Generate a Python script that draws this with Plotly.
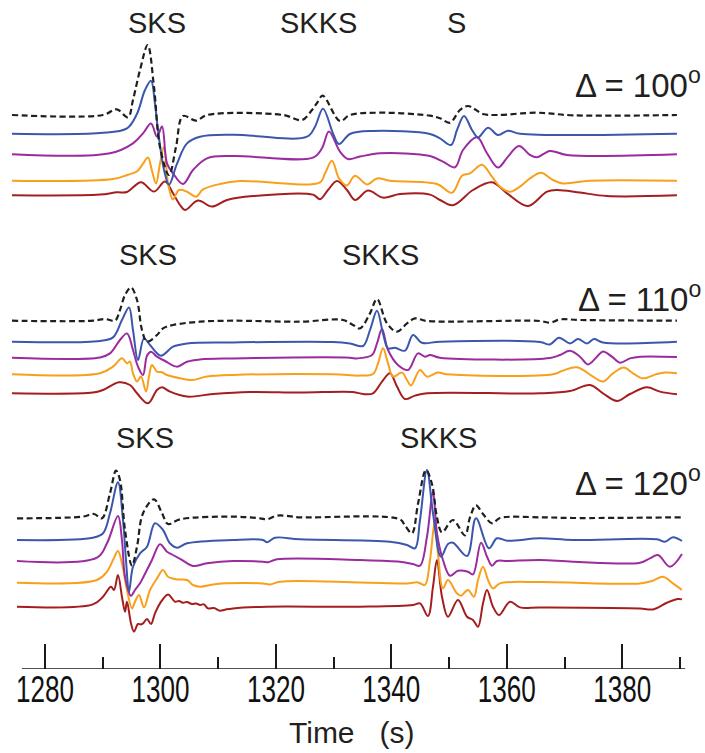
import plotly.graph_objects as go

# ---------------------------------------------------------------
# Waveforms (time in s, amplitude in plot units), three distances.
# "obs" = dashed black trace, syn1..syn4 = coloured traces.
# ---------------------------------------------------------------

# ---- Delta = 100 deg ----
T100_OBS = [1274.28, 1290.05, 1292.42, 1294.38, 1295.24, 1296.46, 1297.79, 1298.88, 1299.92, 1301.48,
            1302.69, 1303.90, 1306.16, 1308.06, 1321.23, 1324.52, 1326.25, 1327.12, 1328.10, 1331.10,
            1332.83, 1338.03, 1346.69, 1348.42, 1350.15, 1351.89, 1353.27, 1355.87, 1358.29, 1365.22,
            1371.46, 1389.47]
A100_OBS = [0, 0, 5.7, -2.3, 15, 45, 70, 28, -32, -60,
            -32, -1, -5.7, 0, 0, -5, 5, 12, 19.3, -6,
            0, 2.3, -0.7, -3.3, -7.7, 5, 9, 1, 0, 2.3,
            -0.3, 0]

T100_SYN1 = [1274.28, 1289.53, 1294.20, 1295.94, 1297.32, 1298.36, 1299.05, 1299.57, 1300.61, 1301.48,
             1302.87, 1304.60, 1306.85, 1312.57, 1325.38, 1326.77, 1328.16, 1329.89, 1330.93, 1332.83,
             1336.82, 1346.69, 1348.42, 1350.33, 1351.37, 1352.58, 1353.97, 1355.01, 1356.74, 1358.47,
             1360.20, 1362.28, 1389.47]
A100_SYN1 = [0, 0.7, 5.3, 20, 43.7, 53, 30, 3.7, -36, -51,
             -30, -9.7, -3, -1, -3, 7, 25, 0.3, -10.3, -0.3,
             2.7, -0.3, -4.7, -11.3, 3.7, 17.7, 3.7, -3.7, 6, -1.3,
             3, 0, 0]

T100_SYN2 = [1274.28, 1291.26, 1295.24, 1296.98, 1298.36, 1299.40, 1300.27, 1301.13, 1302.17, 1303.90,
             1305.64, 1308.06, 1312.57, 1326.42, 1327.98, 1329.19, 1331.10, 1332.49, 1334.56, 1338.03,
             1346.69, 1348.94, 1351.02, 1352.41, 1354.84, 1356.57, 1358.47, 1360.20, 1362.11, 1364.01,
             1365.22, 1367.48, 1370.42, 1389.47]
A100_SYN2 = [0, 1, 11, 21, 30.7, 17.7, 27.7, -9, -19, -29.7,
             -15.7, -4, -1.7, -3.3, 6, 22.7, 2.7, -4.7, -2.3, 1,
             -1.7, -7.3, -13, 4.3, 17, 1, -13.3, -2.3, 8.3, -0.7,
             -3, 3.3, -0.7, 0]

T100_SYN3 = [1274.28, 1291.78, 1294.38, 1295.94, 1296.98, 1297.84, 1298.53, 1299.23, 1299.92, 1300.61,
             1301.31, 1302.17, 1303.21, 1304.60, 1306.16, 1307.37, 1310.31, 1313.78, 1327.64, 1328.50,
             1329.71, 1330.93, 1332.31, 1333.70, 1335.78, 1337.51, 1339.76, 1347.90, 1350.50, 1352.23,
             1353.62, 1355.70, 1357.43, 1358.81, 1360.55, 1362.28, 1364.01, 1365.92, 1368.00, 1369.73,
             1374.40, 1389.47]
A100_SYN3 = [0, 1.7, 6, 9.3, 17, 23.3, 10, -2.7, 17, 34,
             -2.7, -18.7, -9.3, -11, -16, -8.7, -3.3, -0.3, -1.7, 7.3,
             20, 2.3, -4.7, 5, -3.7, 2.3, 0, -3.3, -12, 5,
             7.3, 16, 4, -6, -11, -6, 2.3, 8, 0.7, -2.7,
             0, 0]

T100_SYN4 = [1274.28, 1289.53, 1292.47, 1294.20, 1296.63, 1298.88, 1300.79, 1302.17, 1303.39, 1304.25,
             1306.50, 1308.93, 1311.53, 1316.03, 1326.42, 1327.64, 1329.02, 1330.58, 1332.31, 1333.70,
             1335.95, 1338.55, 1341.49, 1346.69, 1348.42, 1350.67, 1354.14, 1357.43, 1360.03, 1363.66,
             1366.96, 1368.69, 1372.67, 1377.35, 1389.47]
A100_SYN4 = [0, 0.7, 3, 3.3, 13, 3.7, 13.7, 2, -9.7, -14.7,
             -5.3, -11.3, -4.7, -0.7, 0.7, -4, 5.3, 14.3, 5.3, -4.7,
             4.7, -2.3, 1.3, 0.7, -4.7, -10, 5.3, 13, 2, -10.7,
             3.7, 5.3, 2.7, -0.7, 0]

# ---- Delta = 110 deg ----
T110_OBS = [1274.28, 1288.31, 1290.39, 1292.13, 1292.99, 1293.86, 1294.90, 1295.94, 1296.80, 1297.67,
            1299.40, 1300.44, 1302.17, 1306.85, 1312.57, 1324.17, 1331.62, 1333.35, 1334.56, 1336.30,
            1337.51, 1339.24, 1340.98, 1342.71, 1344.09, 1346.17, 1365.74, 1367.48, 1369.21, 1372.67,
            1389.47]
A110_OBS = [0, 0, 1.7, 0, 10.7, 25.7, 33.3, 20.7, -9.3, -21,
            -14.3, -7.7, -4.3, -1, 0, -1, 0.7, -4.3, -7.7, 7.3,
            21.7, -2.7, -11, -2.7, 2.3, -0.3, -0.3, -2, 1.3, 0.7,
            0]

T110_SYN1 = [1274.28, 1289.53, 1291.78, 1293.33, 1294.55, 1295.24, 1296.11, 1297.15, 1298.19, 1300.09,
             1302.17, 1304.60, 1312.57, 1329.89, 1332.83, 1335.08, 1336.30, 1337.51, 1338.55, 1339.42,
             1340.63, 1342.36, 1343.75, 1345.30, 1348.42, 1365.74, 1367.48, 1369.03, 1370.94, 1372.33,
             1373.88, 1375.10, 1376.65, 1389.47]
A110_SYN1 = [0, 0.7, 4.3, 21.7, 34.3, 11.7, -18.3, 3.3, -3.3, -14,
             -5, -1.7, -0.7, -0.3, -1.7, -4.3, 11.7, 31, 8.3, -6.7,
             -6, -9, 6.7, -1, 0, -0.3, -2.7, 4, -1.7, 2.7,
             -1.7, 2.7, -0.7, 0]

T110_SYN2 = [1274.28, 1289.53, 1291.26, 1292.99, 1294.20, 1295.24, 1296.11, 1296.98, 1297.67, 1298.36,
             1299.40, 1300.79, 1302.87, 1304.60, 1306.85, 1312.57, 1332.83, 1334.04, 1336.64, 1337.51,
             1338.38, 1339.42, 1341.15, 1342.88, 1344.61, 1345.82, 1346.69, 1348.42, 1367.48, 1369.21,
             1370.94, 1372.67, 1374.06, 1375.61, 1376.65, 1378.21, 1379.60, 1381.33, 1383.06, 1389.47]
A110_SYN2 = [0, 0.3, 4.3, 17.7, 24.3, 7.7, -9, -17.3, 2, 6,
             1, -3.3, -9, -4, -1.7, -0.7, 0, -0.7, 2.7, 14.3,
             28.7, 7.7, -7.3, -12.3, 4.3, 1, 2.7, 0, -0.3, 2.7,
             7, 1, -6.7, 1, 6.3, 1, -5, -0.7, 1, 0.7]

T110_SYN3 = [1274.28, 1289.53, 1291.78, 1293.33, 1294.20, 1294.72, 1295.24, 1295.94, 1296.63, 1297.50,
             1298.01, 1298.53, 1299.40, 1300.27, 1301.13, 1303.39, 1305.46, 1308.06, 1312.57, 1329.89,
             1334.56, 1336.82, 1337.69, 1338.55, 1339.42, 1340.28, 1341.84, 1342.71, 1343.40, 1344.96,
             1346.17, 1348.07, 1349.63, 1368.00, 1369.73, 1372.15, 1374.92, 1376.65, 1378.39, 1380.29,
             1381.85, 1383.58, 1386.00, 1387.39, 1389.47]
A110_SYN3 = [0, 1, 7.7, 16, 11, 12.7, 1, -7.3, -2.3, -17.3,
             -2.3, 9.3, 2.7, 2, -0.7, -4, -5.7, -2.3, -0.7, 0,
             -1.3, 0.3, 11, 26, 11, -2.3, 1.7, -5.7, -11.3, 4.3,
             -2.3, 1.7, 0, 0, 3.7, 7, -2.3, -7.3, 1, 6.7,
             1, -4, 0.3, 1.7, 1]

T110_SYN4 = [1274.28, 1288.31, 1290.05, 1292.82, 1294.72, 1295.94, 1297.84, 1299.40, 1300.27, 1301.65,
             1304.60, 1309.10, 1315.51, 1324.17, 1333.35, 1335.08, 1336.82, 1338.38, 1339.76, 1340.98,
             1342.36, 1344.09, 1346.17, 1365.74, 1370.94, 1374.40, 1376.65, 1379.08, 1381.33, 1384.27,
             1386.53, 1389.47]
A110_SYN4 = [0, 0.7, 3.3, 11, 8.3, 0, -10, 3.3, 6, 1.7,
             -3.3, -0.7, 1.3, 0.7, 1.3, -0.7, 0, 11.7, 20, 6.7,
             -5.7, -2.3, 0, 0, 2.3, 8.3, 0, -7.7, -0.7, 6,
             1.7, -1]

# ---- Delta = 120 deg ----
T120_OBS = [1275.15, 1286.58, 1288.48, 1289.87, 1291.26, 1292.30, 1292.99, 1293.86, 1295.07, 1295.94,
            1296.98, 1298.88, 1300.27, 1301.31, 1303.39, 1312.57, 1317.24, 1318.45, 1320.19, 1324.17,
            1341.49, 1342.36, 1343.57, 1344.61, 1345.99, 1347.03, 1347.90, 1348.77, 1350.67, 1352.75,
            1353.62, 1354.66, 1355.87, 1357.43, 1358.81, 1365.74, 1371.46, 1390.34]
A120_OBS = [0, 1.7, 4.3, 0, 25, 47.7, 38.3, -11.7, -47.3, -28.3,
            5, 19, 5, -5.7, -1, 1.7, 0, -1, 2.7, 1,
            -1, -7.3, -15, 14.3, 48.3, 34.3, 1, -14, -1.7, -17,
            1, 13, 4.3, -5, 0.3, 1, 0.3, 1]

T120_SYN1 = [1275.15, 1288.31, 1290.05, 1291.26, 1292.64, 1293.51, 1294.03, 1294.55, 1295.24, 1296.46,
             1297.67, 1299.05, 1300.44, 1301.65, 1302.87, 1304.60, 1312.57, 1317.76, 1318.45, 1319.84,
             1324.17, 1339.76, 1342.71, 1344.09, 1344.96, 1346.17, 1347.21, 1348.59, 1349.81, 1350.67,
             1353.10, 1354.66, 1356.91, 1358.29, 1360.03, 1365.74, 1371.46, 1386.00, 1387.39, 1388.78,
             1390.34]
A120_SYN1 = [0, 2.3, 6.7, 26.7, 57.7, 20, -20, -51.7, -26.7, -13.3,
             -6.7, 16.7, 10, -3.3, -7.7, -3.3, 0, 0, -2.3, 2.3,
             0.7, -1.7, -5, -8.3, 20, 70, 26.7, -16.7, -4, -2.7,
             -16, 21.7, -8.3, 1.7, -0.7, 1.7, 0, 0.7, -1.7, 2.7,
             -1]

T120_SYN2 = [1275.15, 1289.00, 1290.74, 1292.64, 1293.33, 1293.86, 1294.90, 1295.59, 1296.46, 1297.15,
             1298.53, 1299.92, 1301.13, 1302.17, 1303.73, 1305.64, 1308.06, 1312.57, 1317.76, 1318.63,
             1320.19, 1334.56, 1341.49, 1343.75, 1344.96, 1346.17, 1347.21, 1347.90, 1348.94, 1350.15,
             1351.54, 1353.27, 1354.14, 1355.53, 1356.57, 1357.43, 1358.29, 1360.03, 1365.74, 1371.46,
             1383.06, 1384.79, 1386.18, 1388.26, 1390.34]
A120_SYN2 = [0, 3.3, 17.7, 45, 21, -15.7, -34.7, -29, -22.3, -14.7,
             1, 16.7, 9.3, 6, 1, -5, -2.3, 0, -0.7, -1.3,
             1.7, 1, -0.7, -3, -4.7, 24.3, 69.3, 27.7, 1, -14.7,
             -9.7, -10.7, -13.3, 18.3, 4.3, -4.7, 0, 0, 1, -0.7,
             -1.7, 2.7, 6, -5.7, 7]

T120_SYN3 = [1275.15, 1289.00, 1290.74, 1291.78, 1292.64, 1293.33, 1294.20, 1295.07, 1295.59, 1296.28,
             1297.15, 1298.19, 1299.40, 1300.44, 1301.31, 1302.87, 1304.60, 1305.64, 1306.85, 1309.79,
             1317.76, 1318.97, 1320.71, 1334.56, 1342.71, 1344.61, 1345.82, 1346.69, 1347.55, 1348.07,
             1348.94, 1349.81, 1351.37, 1352.06, 1353.27, 1354.31, 1355.01, 1355.87, 1356.74, 1357.60,
             1358.81, 1365.74, 1383.06, 1385.31, 1387.05, 1388.78, 1390.34]
A120_SYN3 = [0, 2.7, 11, 22.7, 31.7, 19.3, -7.3, -25.7, -19, -12.3,
             -24.7, -7.3, 4.3, 12.7, 6, 3.3, 2.7, -2.3, -4, -1.3,
             -0.7, -1.7, 1, 0.3, -0.7, 0.3, -2.3, 22.7, 62.7, 29.3,
             -5.7, 2.7, -10.7, -13, -7.3, -14, 2.7, 16, 2.7, -5.7,
             -0.7, 0.7, -0.7, 2, 6, -0.7, -7.3]

T120_SYN4 = [1275.15, 1288.31, 1290.05, 1291.43, 1291.95, 1292.64, 1293.33, 1293.86, 1294.20, 1294.90,
             1295.42, 1296.11, 1296.63, 1296.98, 1297.67, 1298.36, 1299.05, 1299.92, 1301.31, 1302.52,
             1303.21, 1303.90, 1304.60, 1305.46, 1306.16, 1306.85, 1307.54, 1308.24, 1309.27, 1310.31,
             1311.35, 1312.57, 1318.45, 1334.56, 1343.75, 1344.96, 1346.34, 1347.21, 1347.90, 1348.77,
             1349.81, 1351.54, 1353.10, 1354.14, 1355.01, 1355.87, 1356.57, 1357.60, 1358.64, 1360.55,
             1362.28, 1365.74, 1383.06, 1385.31, 1387.74, 1389.65, 1390.34]
A120_SYN4 = [0, 2.3, 10, 20, 16.7, 31.7, 10, -5, 5, -16.7,
             -25, -17.3, -17.7, -16.7, -12.3, -17.3, -6.7, 3.3, 12.3, 5,
             5.7, 4, 4.7, 2.7, 3.3, 1.7, 2.3, -1.7, -1.3, -4,
             -2.7, -1.7, 0, 0, 1.7, 3.3, -9.3, 20, 46.7, 10,
             -10, 6.7, -10, -13.3, -20, 3.3, 16.7, 0, -8.3, 5,
             -0.7, -0.7, -1.7, -2.7, 4, 7.7, 7.3]

# Phase labels per panel: (name, time of label centre)
PHASES_100 = [("SKS", 1299.4), ("SKKS", 1327.3), ("S", 1351.2)]
PHASES_110 = [("SKS", 1297.8), ("SKKS", 1338.2)]
PHASES_120 = [("SKS", 1297.3), ("SKKS", 1348.1)]
DISTANCES = [100, 110, 120]

# ---------------------------------------------------------------
# Layout constants (pixels of a 705 x 753 page)
# ---------------------------------------------------------------
W, H = 705, 753
PLOT_H = 669                      # plot area height; x axis sits at its bottom
X0, X1 = 1272.205, 1394.33         # time range spanning the full width

COLORS = ["#1f1f1f", "#3b57ad", "#9b2b9e", "#f8a01c", "#a51e1f"]

# baselines (plot units = pixels above the axis line)
BASE = {
    100: [554.0, 535.3, 514.7, 488.3, 473.7],
    110: [348.3, 327.3, 311.3, 294.7, 275.7],
    120: [150.7, 129.0, 108.0, 86.3, 62.3],
}
LABEL_Y = {100: 646, 110: 414, 120: 231}     # phase label centre (plot units)
DELTA_Y = {100: 586, 110: 372, 120: 188}     # distance label centre (plot units)

SERIES = {
    100: [(T100_OBS, A100_OBS), (T100_SYN1, A100_SYN1), (T100_SYN2, A100_SYN2),
          (T100_SYN3, A100_SYN3), (T100_SYN4, A100_SYN4)],
    110: [(T110_OBS, A110_OBS), (T110_SYN1, A110_SYN1), (T110_SYN2, A110_SYN2),
          (T110_SYN3, A110_SYN3), (T110_SYN4, A110_SYN4)],
    120: [(T120_OBS, A120_OBS), (T120_SYN1, A120_SYN1), (T120_SYN2, A120_SYN2),
          (T120_SYN3, A120_SYN3), (T120_SYN4, A120_SYN4)],
}
PHASES = {100: PHASES_100, 110: PHASES_110, 120: PHASES_120}

fig = go.Figure()

for d in DISTANCES:
    # draw coloured traces first, dashed reference on top
    order = [4, 3, 2, 1, 0]
    for i in order:
        t, a = SERIES[d][i]
        y = [BASE[d][i] + v for v in a]
        fig.add_trace(go.Scatter(
            x=t, y=y, mode="lines",
            line=dict(color=COLORS[i], width=2 if i else 2.2,
                      shape="spline", smoothing=1.0,
                      dash="6px,3.5px" if i == 0 else "solid"),
            showlegend=False, hoverinfo="skip",
        ))

annotations = []
label_font = dict(family="Liberation Sans, Arial, sans-serif", size=29, color="#231f20")
for d in DISTANCES:
    for name, tc in PHASES[d]:
        annotations.append(dict(
            x=tc, y=LABEL_Y[d], xref="x", yref="y", text=name, showarrow=False,
            xanchor="center", yanchor="middle", font=label_font))
    annotations.append(dict(
        x=1394.0, y=DELTA_Y[d], xref="x", yref="y",
        text=f"\u0394 = {d}<sup>o</sup>", showarrow=False,
        xanchor="right", yanchor="middle",
        font=dict(family="Liberation Sans, Arial, sans-serif", size=33, color="#231f20")))

# axis title
annotations.append(dict(
    x=351.5 / W, y=-(732 - PLOT_H) / PLOT_H, xref="paper", yref="paper",
    text="Time\u00a0\u00a0\u00a0(s)", showarrow=False, xanchor="center", yanchor="middle",
    font=dict(family="Liberation Sans, Arial, sans-serif", size=30, color="#231f20")))

# axis baseline from 1276 s to just past 1390 s
shapes = [dict(type="line", xref="x", yref="y", x0=1276.0, x1=1390.9, y0=0, y1=0,
               line=dict(color="#1a1a1a", width=1.6))]

fig.update_layout(
    width=W, height=H,
    margin=dict(l=0, r=0, t=0, b=H - PLOT_H, pad=0),
    paper_bgcolor="white", plot_bgcolor="white",
    annotations=annotations, shapes=shapes,
    xaxis=dict(
        range=[X0, X1], showgrid=False, zeroline=False, showline=False,
        tickmode="linear", tick0=1280, dtick=20,
        ticks="inside", ticklen=25, tickwidth=1.6, tickcolor="#1a1a1a",
        minor=dict(tickmode="linear", tick0=1270, dtick=10, ticks="inside",
                   ticklen=12.5, tickwidth=1.6, tickcolor="#1a1a1a", showgrid=False),
        tickfont=dict(family="Liberation Sans, Arial, sans-serif",
                      size=37, color="#111111"),
        ticklabelstandoff=-5,
    ),
    yaxis=dict(range=[0, PLOT_H], visible=False, showgrid=False, zeroline=False),
)

# condensed tick numerals: fit each label into a fixed advance width
condense_js = """
var gd = document.getElementById('{plot_id}');
function condenseTicks() {
  gd.querySelectorAll('.xtick text').forEach(function (el) {
    el.setAttribute('textLength', '58');
    el.setAttribute('lengthAdjust', 'spacingAndGlyphs');
  });
}
condenseTicks();
gd.on('plotly_afterplot', condenseTicks);
"""

fig.write_html("out.html", post_script=condense_js)
